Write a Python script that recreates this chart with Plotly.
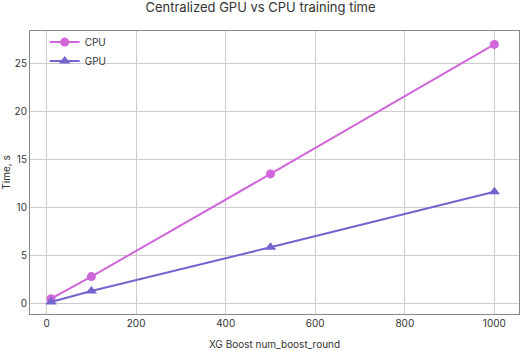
import plotly.graph_objects as go

rounds = [10, 100, 500, 1000]
cpu_time = [0.5, 2.8, 13.5, 27.0]
gpu_time = [0.15, 1.3, 5.85, 11.65]
x_ticks = [0, 200, 400, 600, 800, 1000]
y_ticks = [0, 5, 10, 15, 20, 25]

FONT = "Inter, Noto Sans, sans-serif"
CPU_COLOR = "#d066d9"
GPU_COLOR = "#7464cf"

fig = go.Figure()
fig.add_trace(go.Scatter(x=rounds, y=cpu_time, name="CPU", mode="lines+markers",
                         line=dict(color=CPU_COLOR, width=2),
                         marker=dict(symbol="circle", size=9, color=CPU_COLOR)))
fig.add_trace(go.Scatter(x=rounds, y=gpu_time, name="GPU", mode="lines+markers",
                         line=dict(color=GPU_COLOR, width=2),
                         marker=dict(symbol="triangle-up", size=10, color=GPU_COLOR)))

fig.update_layout(
    width=521, height=351,
    margin=dict(l=30, r=2, t=31, b=37),
    paper_bgcolor="white", plot_bgcolor="white",
    font=dict(family=FONT, size=10, color="#333333"),
    title=dict(text="Centralized GPU vs CPU training time", x=0.5, xanchor="center",
               y=0.992, yanchor="top", font=dict(size=13, color="#333333")),
    showlegend=True,
    legend=dict(x=0.03, y=1.012, xanchor="left", yanchor="top", bgcolor="rgba(0,0,0,0)",
                font=dict(size=10), tracegroupgap=0),
    xaxis=dict(range=[-37, 1055], tickvals=x_ticks, showgrid=True, gridcolor="#cccccc",
               gridwidth=1, zeroline=False, showline=True, mirror=True, linecolor="#888888",
               linewidth=1, ticks="", title=dict(text="XG Boost num_boost_round", standoff=12,
               font=dict(size=10))),
    yaxis=dict(range=[-1.1, 28.4], tickvals=y_ticks, showgrid=True, gridcolor="#cccccc",
               gridwidth=1, zeroline=False, showline=True, mirror=True, linecolor="#888888",
               linewidth=1, ticks="", title=dict(text="Time, s", standoff=6, font=dict(size=10))),
)

fig.write_html("out.html")
